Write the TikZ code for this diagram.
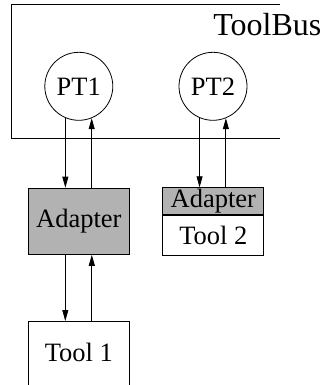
\documentclass[tikz,border=0pt]{standalone}
\usepackage{fontspec}
\setmainfont{Liberation Serif}
\usetikzlibrary{arrows.meta,calc}
\begin{document}
\begin{tikzpicture}[x=1pt,y=-1pt,line width=0.8pt,
  lbl/.style={font=\fontsize{26.5}{30}\selectfont},
  proc/.style={circle,draw,minimum size=68pt,inner sep=0pt,lbl},
  box/.style={rectangle,draw,minimum width=101pt,inner sep=0pt,lbl},
  gbox/.style={box,fill=black!30},
  arr/.style={-{Triangle[length=11pt,width=6pt]}}]
\useasboundingbox (0,0) rectangle (320,385);
% ToolBus frame (open on the right)
\coordinate (busTR) at (280,4.7);
\coordinate (busTL) at (11.7,4.7);
\coordinate (busBL) at (11.7,138.5);
\coordinate (busBR) at (280,138.5);
\draw (busTR) -- (busTL) -- (busBL) -- (busBR);
\node[font=\fontsize{32}{36}\selectfont,anchor=base west,inner sep=0pt] (bus) at (213,35.7) {ToolBus};
% processes
\node[proc] (p1) at (78.8,86.3) {PT1};
\node[proc] (p2) at (213,86.3) {PT2};
% adapters
\node[gbox,minimum height=66.3pt,anchor=north] (a1) at (78.8,187.7) {Adapter};
\node[gbox,minimum height=27pt,anchor=north] (a2) at (213.3,187.3) {Adapter};
\node[box,minimum height=39.7pt,anchor=north] (t2) at (a2.south) {Tool 2};
% tool 1 (cut off by the page bottom)
\node[box,minimum height=80pt,anchor=north] (t1) at (78.8,321) {};
\node[lbl,inner sep=0pt,anchor=base] (t1l) at (78.8,361) {Tool 1};
% connectors
\draw[arr] (p1.247.5) -- (p1.247.5 |- a1.north);
\draw[arr] (p1.292.5 |- a1.north) -- (p1.292.5);
\draw[arr] (p2.247.5) -- (p2.247.5 |- a2.north);
\draw[arr] (p2.292.5 |- a2.north) -- (p2.292.5);
\draw[arr] ($(a1.south)+(-13.5,0)$) -- ($(t1.north)+(-13.5,0)$);
\draw[arr] ($(t1.north)+(13,0)$) -- ($(a1.south)+(13,0)$);
\end{tikzpicture}
\end{document}
